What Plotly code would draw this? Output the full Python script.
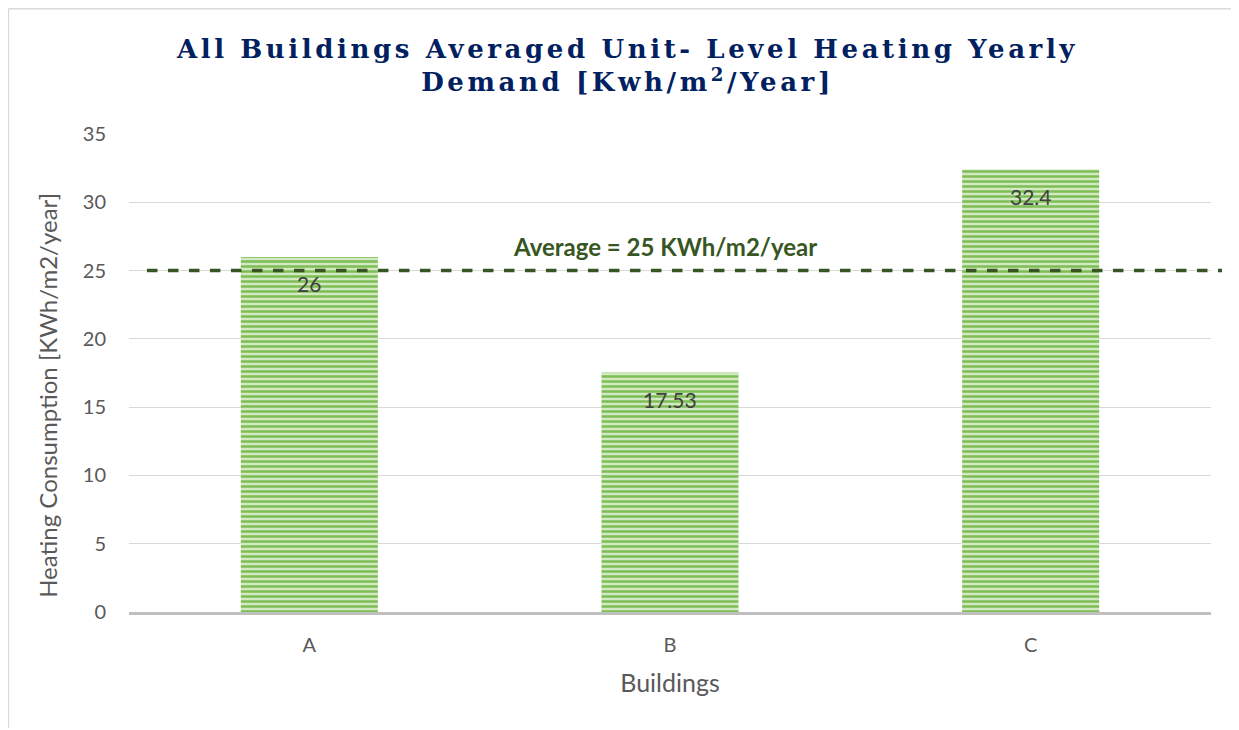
import plotly.graph_objects as go

categories = ["A", "B", "C"]
values = [26, 17.53, 32.4]
value_labels = ["26", "17.53", "32.4"]
average = 25
y_ticks = [0, 5, 10, 15, 20, 25, 30, 35]
y_max = 35

title_text = "All Buildings Averaged Unit- Level Heating Yearly<br>Demand [Kwh/m<sup>2</sup>/Year]"
avg_label = "Average = 25 KWh/m2/year"
y_title = "Heating Consumption [KWh/m2/year]"
x_title = "Buildings"

fig = go.Figure()
fig.add_trace(go.Bar(
    x=categories, y=values,
    width=0.38,
    marker=dict(color="#d2e9c2",
                line=dict(width=0),
                pattern=dict(shape="-", fgcolor="#7dbd55", bgcolor="#d2e9c2",
                             size=5, solidity=0.5, fillmode="replace")),
    hoverinfo="x+y",
))

for cat, val, lab in zip(categories, values, value_labels):
    fig.add_annotation(x=cat, y=val, text=lab, showarrow=False, yshift=-27,
                       yanchor="middle",
                       font=dict(family="Lato, sans-serif", size=21, color="#404040"))

fig.add_shape(type="line", xref="paper", yref="paper",
              x0=0.0166, x1=1.0102, y0=average / y_max, y1=average / y_max,
              line=dict(color="#375623", width=3.5, dash="dash"))

fig.add_annotation(text=avg_label, xref="paper", yref="paper",
                   x=0.495, y=(average + 1.75) / y_max, showarrow=False,
                   xanchor="center", yanchor="middle",
                   font=dict(family="Lato, sans-serif", size=24, color="#375623", weight="bold"))

# y axis title (placed like the reference, slightly below plot centre)
fig.add_annotation(text=y_title, xref="paper", yref="paper", x=-0.075, y=0.454,
                   showarrow=False, textangle=-90, xanchor="center", yanchor="middle",
                   font=dict(family="Lato, sans-serif", size=24, color="#595959"))

# outer chart border (left & top)
fig.add_shape(type="line", xref="paper", yref="paper", x0=-0.1115, x1=-0.1115, y0=-0.243, y1=1.262,
              line=dict(color="#d9d9d9", width=1.5))
fig.add_shape(type="line", xref="paper", yref="paper", x0=-0.1115, x1=1.05, y0=1.262, y1=1.262,
              line=dict(color="#d9d9d9", width=1.5))

fig.update_layout(
    width=1239, height=730,
    margin=dict(l=121, r=36, t=126, b=126),
    paper_bgcolor="white", plot_bgcolor="white",
    showlegend=False,
    title=dict(text=title_text, x=0.5, xref="container", xanchor="center",
               y=0.932, yanchor="top",
               font=dict(family="DejaVu Serif, serif", size=26, color="#002060", weight="bold")),
    font=dict(family="Lato, Open Sans, sans-serif", color="#595959"),
)
fig.update_xaxes(
    showgrid=False, showline=True, linecolor="#bfbfbf", linewidth=2.5,
    tickfont=dict(size=20, color="#595959"), ticks="", ticklabelstandoff=13,
    title=dict(text=x_title, font=dict(size=25, color="#595959"), standoff=20),
)
fig.update_yaxes(
    range=[0, y_max], tickvals=y_ticks, showgrid=True, gridcolor="#d9d9d9", gridwidth=1,
    zeroline=False, showline=False, ticks="", ticklabelstandoff=22,
    tickfont=dict(size=20, color="#595959"),
)

post = """
var t = document.querySelectorAll('.gtitle');
t.forEach(function(e){ e.style.letterSpacing = '3.6px'; });
"""
fig.write_html("out.html", post_script=post)
